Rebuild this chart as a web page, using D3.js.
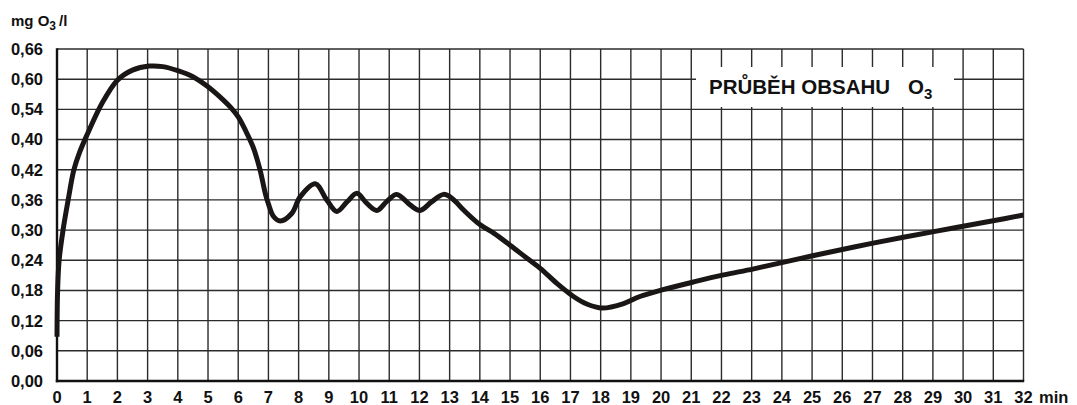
<!DOCTYPE html>
<html>
<head>
<meta charset="utf-8">
<script src="https://cdn.jsdelivr.net/npm/d3@7"></script>
<style>
  body { margin: 0; background: #fff; }
  text { font-family: "Liberation Sans", Arial, sans-serif; font-weight: bold; fill: #111; }
</style>
</head>
<body>
<script>
// time in minutes and ozone content (mg O3/l)
var minutes = [0, 0.02, 0.07, 0.2, 0.37, 0.56, 0.75, 1, 1.5, 2, 2.5, 3.05, 3.5, 4, 4.5, 5, 5.5, 5.75, 6, 6.25,
  6.5, 6.72, 6.9, 7.0, 7.17, 7.39, 7.77, 8.05, 8.55, 8.93, 9.26, 9.6, 9.93, 10.26, 10.59, 10.92, 11.25, 11.69,
  12.02, 12.4, 12.8, 13.1, 13.46, 14.0, 14.46, 15.0, 15.56, 16.0, 16.55, 17.1, 17.54, 18.05, 18.76, 19.3,
  20.03, 21.08, 22.07, 23.07, 25.02, 27.02, 29.03, 31.04, 32];
var ozone = [0.088, 0.18, 0.24, 0.30, 0.36, 0.42, 0.455, 0.49, 0.553, 0.598, 0.618, 0.626, 0.625, 0.617, 0.605,
  0.585, 0.559, 0.544, 0.525, 0.497, 0.464, 0.42, 0.372, 0.352, 0.327, 0.318, 0.333, 0.366, 0.392, 0.36, 0.337,
  0.356, 0.373, 0.353, 0.339, 0.357, 0.371, 0.35, 0.339, 0.356, 0.371, 0.362, 0.34, 0.311, 0.294, 0.27, 0.244,
  0.224, 0.194, 0.168, 0.153, 0.145, 0.154, 0.168, 0.181, 0.197, 0.211, 0.223, 0.249, 0.274, 0.297, 0.319, 0.33];

// y tick positions and the labels as printed (the 0,48 row is printed "0,40")
var yTicks = [0, 0.06, 0.12, 0.18, 0.24, 0.30, 0.36, 0.42, 0.48, 0.54, 0.60, 0.66];
var yLabels = ["0,00", "0,06", "0,12", "0,18", "0,24", "0,30", "0,36", "0,42", "0,40", "0,54", "0,60", "0,66"];
var xTicks = d3.range(0, 33);

var width = 1077, height = 405;

var svg = d3.select("body").append("svg")
  .attr("width", width)
  .attr("height", height)
  .style("display", "block");

svg.append("rect").attr("width", width).attr("height", height).attr("fill", "#fff");

var x = d3.scaleLinear().domain([0, 32]).range([57, 1023.5]);
var y = d3.scaleLinear().domain([0, 0.66]).range([381, 49]);

// grid
var grid = svg.append("g").attr("stroke", "#2b2b2b").attr("stroke-width", 1.4);
grid.selectAll(".v").data(xTicks).enter().append("line")
  .attr("x1", d => x(d)).attr("x2", d => x(d))
  .attr("y1", y(0)).attr("y2", y(0.66));
grid.selectAll(".h").data(yTicks).enter().append("line")
  .attr("x1", x(0)).attr("x2", x(32))
  .attr("y1", d => y(d)).attr("y2", d => y(d));

// title box covers the grid
svg.append("rect")
  .attr("x", 696).attr("y", 67)
  .attr("width", 258).attr("height", 40)
  .attr("fill", "#fff");

var title = svg.append("text")
  .attr("x", 709).attr("y", 94)
  .style("font-size", "20.5px");
title.append("tspan").text("PRŮBĚH OBSAHU");
title.append("tspan").attr("x", 908).text("O");
title.append("tspan").attr("dy", 5).style("font-size", "15px").text("3");

// axes lines
svg.append("line")
  .attr("x1", x(0)).attr("x2", x(0)).attr("y1", y(0.66) - 0.7).attr("y2", y(0) + 1.2)
  .attr("stroke", "#111").attr("stroke-width", 2.4);
svg.append("line")
  .attr("x1", x(0) - 1.2).attr("x2", x(32) + 0.7).attr("y1", y(0)).attr("y2", y(0))
  .attr("stroke", "#111").attr("stroke-width", 2.4);

// y labels
svg.append("g").selectAll("text").data(yTicks).enter().append("text")
  .attr("x", 43)
  .attr("y", d => y(d))
  .attr("dy", "0.36em")
  .attr("text-anchor", "end")
  .style("font-size", "16.5px")
  .text((d, i) => yLabels[i]);

// x labels
svg.append("g").selectAll("text").data(xTicks).enter().append("text")
  .attr("x", d => x(d))
  .attr("y", 403)
  .attr("text-anchor", "middle")
  .style("font-size", "16.5px")
  .text(d => d);

svg.append("text")
  .attr("x", 1039).attr("y", 403)
  .style("font-size", "16.5px")
  .text("min");

// unit label
var unit = svg.append("text")
  .attr("x", 11).attr("y", 26)
  .style("font-size", "15px");
unit.append("tspan").text("mg O");
unit.append("tspan").attr("dy", 4).style("font-size", "12px").text("3");
unit.append("tspan").attr("dy", -4).attr("dx", 3).text("/l");

// curve
var pts = minutes.map((m, i) => [m, ozone[i]]);
var line = d3.line()
  .x(d => x(d[0]))
  .y(d => y(d[1]))
  .curve(d3.curveCatmullRom.alpha(0.5));

svg.append("path")
  .datum(pts)
  .attr("d", line)
  .attr("fill", "none")
  .attr("stroke", "#1a1616")
  .attr("stroke-width", 5)
  .attr("stroke-linejoin", "round");
</script>
</body>
</html>
